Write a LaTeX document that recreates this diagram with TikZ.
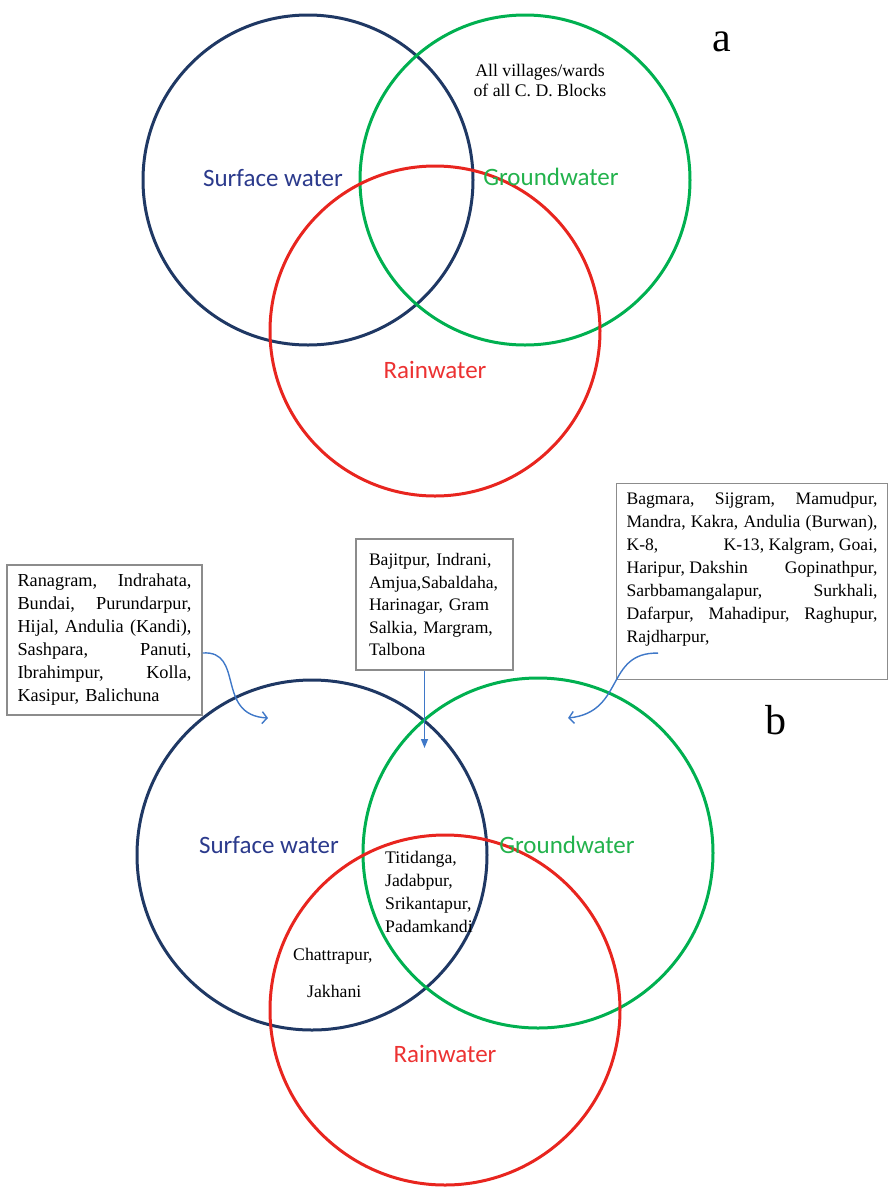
\documentclass[tikz,border=0pt]{standalone}
\usepackage{fontspec}
\setmainfont{Liberation Serif}
\newfontfamily\carl{Carlito}
\usetikzlibrary{arrows.meta}
\definecolor{navyc}{HTML}{1F3864}
\definecolor{greenc}{HTML}{00B050}
\definecolor{redc}{HTML}{E8251F}
\definecolor{navyt}{HTML}{2B3A8C}
\definecolor{greent}{HTML}{22B24C}
\definecolor{redt}{HTML}{EC3232}
\definecolor{arrc}{HTML}{3F78C8}
\definecolor{boxc}{HTML}{8C8C8C}
\newcommand\jl[2][174pt]{\leavevmode\hbox to #1{#2}}
\begin{document}
\begin{tikzpicture}[x=1pt,y=-1pt,
  ring/.style={circle,line width=3pt,inner sep=0pt,fill=none},
  lab/.style={font=\carl\fontsize{25}{30}\selectfont,anchor=base,inner sep=0pt},
  txt/.style={font=\fontsize{17.7}{23}\selectfont,inner sep=0pt},
  vbox/.style={draw=boxc,line width=1.1pt,fill=white,align=left},
  conn/.style={draw=arrc,line width=1.4pt},
  big/.style={font=\fontsize{42}{42}\selectfont,inner sep=0pt,anchor=base}]
\useasboundingbox (0,0) rectangle (889,1187);
% ---------- diagram a ----------
\node[ring,draw=navyc,minimum size=330pt] (sa) at (308,180) {};
\node[ring,draw=greenc,minimum size=330pt] (ga) at (525,180) {};
\node[ring,draw=redc,minimum size=330pt] (ra) at (435,331) {};
\node[lab,text=navyt] (sal) at (273,186) {Surface water};
\node[lab,text=greent] (gal) at (551,185) {Groundwater};
\node[lab,text=redt] (ral) at (435,378) {Rainwater};
\node[txt,align=center] (all) at (540,80) {All villages/wards\\[-3pt]of all C. D. Blocks};
\node[big] (la) at (722,51) {a};
% ---------- diagram b ----------
\node[ring,draw=navyc,minimum size=350pt] (sb) at (312,855) {};
\node[ring,draw=greenc,minimum size=350pt] (gb) at (538,853) {};
\node[ring,draw=redc,minimum size=350pt] (rb) at (445,1010) {};
\node[lab,text=navyt] (sbl) at (269,853) {Surface water};
\node[lab,text=greent] (gbl) at (567,853) {Groundwater};
\node[lab,text=redt] (rbl) at (445,1062) {Rainwater};
\node[big] (lb) at (776,734) {b};
\node[txt,align=left,anchor=north west] (mid) at (385,851) {Titidanga,\\Jadabpur,\\Srikantapur,\\Padamkandi};
\node[txt,anchor=base west] (ch) at (293,960) {Chattrapur,};
\node[txt,anchor=base west] (jk) at (307,997) {Jakhani};
% boxes
\node[vbox,font=\fontsize{18.3}{23}\selectfont,text width=174pt,inner xsep=10.5pt,minimum height=150pt] (lbox) at (104.5,640)
 {\jl{Ranagram,\hfill Indrahata,}\\
  \jl{Bundai,\hfill Purundarpur,}\\
  \jl{Hijal,\hfill Andulia\hfill (Kandi),}\\
  \jl{Sashpara,\hfill Panuti,}\\
  \jl{Ibrahimpur,\hfill Kolla,}\\
  Kasipur, Balichuna};
\node[vbox,font=\fontsize{17.6}{22.5}\selectfont,text width=131pt,inner xsep=13pt,minimum height=131pt] (mbox) at (434.5,604.5)
 {Bajitpur, Indrani,\\
  Amjua,Sabaldaha,\\
  Harinagar, Gram\\
  Salkia, Margram,\\
  Talbona};
\node[vbox,font=\fontsize{17.6}{23}\selectfont,anchor=north west,inner xsep=10pt,inner ysep=9pt] (rbox) at (616,483)
 {\parbox[t][178pt][t]{251pt}{%
  \jl[251pt]{Bagmara,\hfill Sijgram,\hfill Mamudpur,}\\
  \jl[251pt]{Mandra,\hfill Kakra,\hfill Andulia\hfill (Burwan),}\\
  \jl[251pt]{K-8,\hfill K-13, Kalgram, Goai,}\\
  \jl[251pt]{Haripur, Dakshin\hfill Gopinathpur,}\\
  \jl[251pt]{Sarbbamangalapur,\hfill Surkhali,}\\
  \jl[251pt]{Dafarpur,\hfill Mahadipur,\hfill Raghupur,}\\
  Rajdharpur,}};
% connectors
\coordinate (lend) at (268,718);
\coordinate (mend) at (424.5,748);
\coordinate (rend) at (568,718);
\draw[conn,-{Straight Barb[length=5pt,width=12pt]}] ([yshift=-13pt]lbox.east) .. controls (245,650) and (215,715) .. (lend);
\draw[conn,-{Triangle[length=9pt,width=7pt]}] ([xshift=-10pt]mbox.south) -- (mend);
\draw[conn,-{Straight Barb[length=5pt,width=12pt]}] ([xshift=42pt,yshift=27pt]rbox.south west) .. controls (605,652) and (625,712) .. (rend);
\end{tikzpicture}
\end{document}
